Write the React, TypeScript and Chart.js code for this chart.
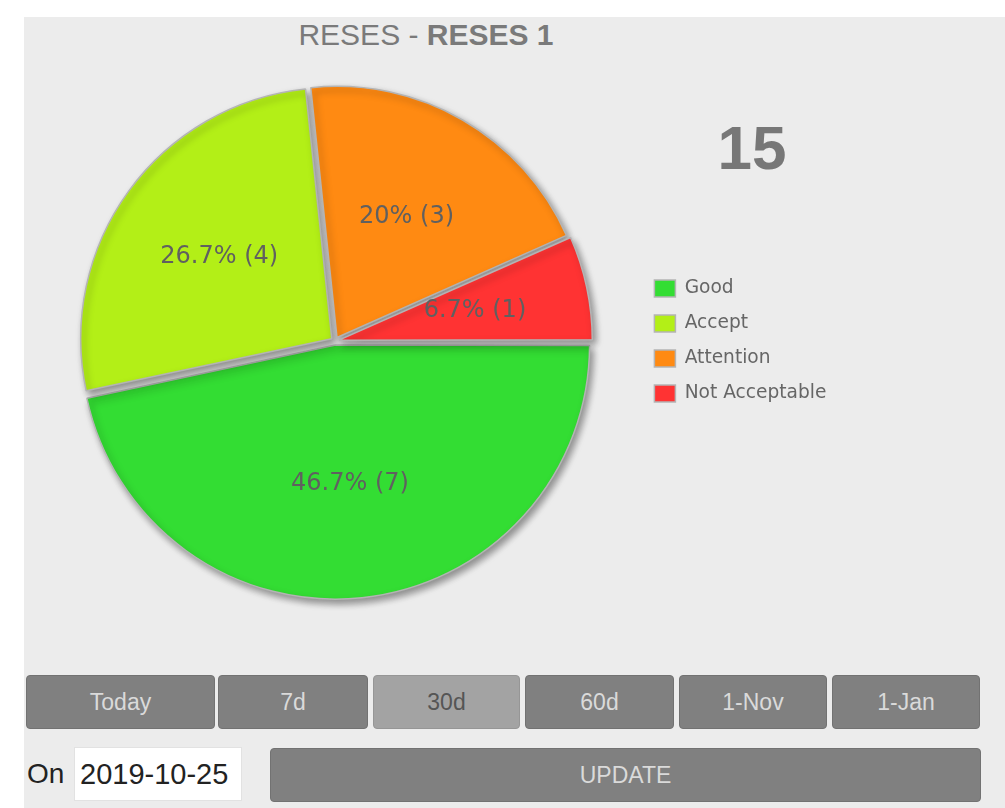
import React, { useEffect, useRef } from "react";
import { Chart, registerables } from "chart.js";

Chart.register(...registerables);

const titleMain = "RESES - ";
const titleBold = "RESES 1";
const categories = ["Good", "Accept", "Attention", "Not Acceptable"];
const counts = [7, 4, 3, 1];
const sliceColors = ["#33dd33", "#b3ef17", "#ff8a12", "#ff3333"];
const rangeButtons = ["Today", "7d", "30d", "60d", "1-Nov", "1-Jan"];
const activeRange = "30d";
const dateValue = "2019-10-25";
const onLabel = "On";
const updateLabel = "UPDATE";

const shadowPlugin = {
  id: "sliceShadow",
  beforeDatasetsDraw(chart: any) {
    const c = chart.ctx;
    c.save();
    c.shadowColor = "rgba(0,0,0,0.4)";
    c.shadowBlur = 7;
    c.shadowOffsetX = 3;
    c.shadowOffsetY = 4;
  },
  afterDatasetsDraw(chart: any) {
    chart.ctx.restore();
  },
};

const sliceLabelPlugin = {
  id: "sliceLabels",
  afterDraw(chart: any) {
    const meta = chart.getDatasetMeta(0);
    const data = chart.data.datasets[0].data as number[];
    const total = data.reduce((a, b) => a + b, 0);
    const ctx = chart.ctx;
    ctx.save();
    ctx.font = "24px 'DejaVu Sans'";
    ctx.fillStyle = "#606060";
    ctx.textAlign = "center";
    ctx.textBaseline = "middle";
    meta.data.forEach((arc: any, i: number) => {
      const p = arc.getProps(["x", "y", "startAngle", "endAngle", "outerRadius"], true);
      const mid = (p.startAngle + p.endAngle) / 2;
      const r = p.outerRadius * 0.57;
      const pct = Math.round((data[i] / total) * 1000) / 10;
      ctx.fillText(`${pct}% (${data[i]})`, p.x + Math.cos(mid) * r, p.y + Math.sin(mid) * r);
    });
    ctx.restore();
  },
};

const legendWidthPlugin = {
  id: "legendWidth",
  beforeUpdate(chart: any) {
    const lg = chart.legend;
    if (lg && !lg._fixedWidth) {
      const orig = lg.fit;
      lg.fit = function () {
        orig.call(this);
        this.width = 367;
      };
      lg._fixedWidth = true;
    }
  },
};

function PieChart() {
  const ref = useRef<HTMLCanvasElement | null>(null);
  useEffect(() => {
    if (!ref.current) return;
    const chart = new Chart(ref.current, {
      type: "pie",
      data: {
        labels: categories,
        datasets: [
          {
            data: counts,
            backgroundColor: sliceColors,
            borderColor: "#b4b4b4",
            borderWidth: 1.5,
            offset: 16,
          },
        ],
      },
      options: {
        animation: false,
        responsive: true,
        maintainAspectRatio: false,
        rotation: 90,
        radius: 251,
        layout: { padding: { left: 8, right: 0, top: 0, bottom: 0 } },
        plugins: {
          legend: {
            position: "right",
            labels: {
              boxWidth: 21,
              boxHeight: 17,
              padding: 16.4,
              color: "#666666",
              font: { family: "'DejaVu Sans'", size: 18.6 },
            },
          },
          tooltip: { enabled: false },
        },
      } as any,
      plugins: [legendWidthPlugin, shadowPlugin, sliceLabelPlugin],
    });
    return () => chart.destroy();
  }, []);
  return <canvas ref={ref} />;
}

const btnPos = [
  [26, 189],
  [218, 150],
  [373, 147],
  [525, 149],
  [679, 148],
  [832, 148],
];

export default function App() {
  const total = counts.reduce((a, b) => a + b, 0);
  const sans = "'Liberation Sans', Arial, sans-serif";
  return (
    <div style={{ position: "absolute", left: 0, top: 0, width: 1005, height: 808, background: "#ffffff", overflow: "hidden", fontFamily: sans }}>
      <div style={{ position: "absolute", left: 24, top: 17, width: 981, height: 791, background: "#ececec" }} />
      <div style={{ position: "absolute", left: 226, top: 20, width: 400, textAlign: "center", fontSize: 30, lineHeight: "30px", color: "#7a7a7a", whiteSpace: "nowrap" }}>
        {titleMain}
        <b>{titleBold}</b>
      </div>
      <div style={{ position: "absolute", left: 652, top: 117, width: 200, textAlign: "center", fontSize: 62, lineHeight: "62px", fontWeight: "bold", color: "#777777" }}>
        {String(total)}
      </div>
      <div style={{ position: "absolute", left: 24, top: 71, width: 981, height: 540 }}>
        <PieChart />
      </div>
      {rangeButtons.map((b, i) => {
        const active = b === activeRange;
        return (
          <div
            key={b}
            style={{
              position: "absolute",
              left: btnPos[i][0],
              top: 675,
              width: btnPos[i][1],
              height: 54,
              boxSizing: "border-box",
              background: active ? "#a3a3a3" : "#808080",
              border: active ? "1px solid #969696" : "1px solid #727272",
              borderRadius: 4,
              color: active ? "#555555" : "#dadada",
              fontSize: 23,
              lineHeight: "52px",
              textAlign: "center",
            }}
          >
            {b}
          </div>
        );
      })}
      <div style={{ position: "absolute", left: 27, top: 758, fontSize: 28, lineHeight: "32px", color: "#222222" }}>{onLabel}</div>
      <div style={{ position: "absolute", left: 74, top: 747, width: 168, height: 54, boxSizing: "border-box", background: "#ffffff", border: "1px solid #e2e2e2", fontSize: 29, lineHeight: "52px", color: "#222222", paddingLeft: 5 }}>
        {dateValue}
      </div>
      <div style={{ position: "absolute", left: 270, top: 748, width: 711, height: 54, boxSizing: "border-box", background: "#808080", border: "1px solid #727272", borderRadius: 4, color: "#dadada", fontSize: 23, lineHeight: "52px", textAlign: "center" }}>
        {updateLabel}
      </div>
    </div>
  );
}
